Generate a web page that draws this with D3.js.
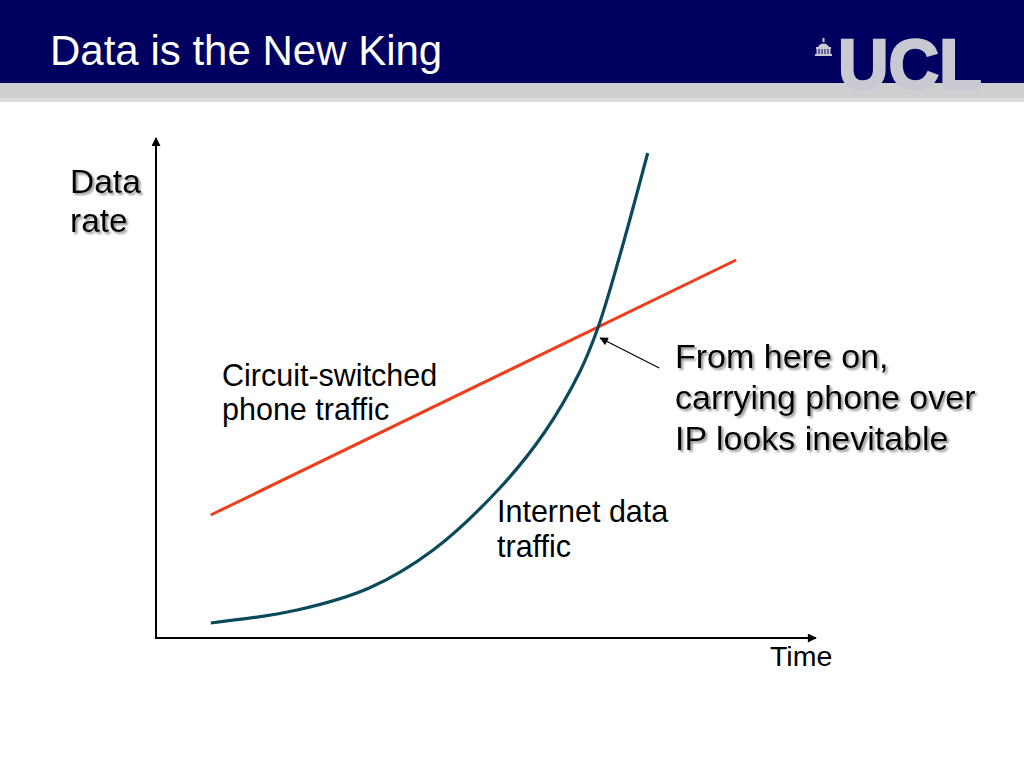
<!DOCTYPE html>
<html>
<head>
<meta charset="utf-8">
<script src="https://cdn.jsdelivr.net/npm/d3@7"></script>
<style>
  body { margin: 0; background: #fff; }
  svg { display: block; font-family: "Liberation Sans", Arial, sans-serif; }
</style>
</head>
<body>
<script>
// time runs 0..100 along the axis, data rate 0..100 up the axis
const phoneTime = [8.3, 87.9]
const phoneRate = [24.6, 75.6]
const internetTime = [8.3, 21.4, 32.3, 42.0, 52.1, 58.9, 64.2, 67.0, 70.3, 74.5]
const internetRate = [3.0, 5.6, 10.0, 17.6, 30.0, 41.2, 53.2, 62.2, 76.6, 97.0]
const crossing = { time: 67.0, rate: 62.2 }
const titleText = "Data is the New King"
const yLabel = ["Data", "rate"]
const xLabel = "Time"
const phoneLabel = ["Circuit-switched", "phone traffic"]
const internetLabel = ["Internet data", "traffic"]
const noteLabel = ["From here on,", "carrying phone over", "IP looks inevitable"]

const W = 1024, H = 768
const svg = d3.select("body").append("svg").attr("width", W).attr("height", H)

const defs = svg.append("defs")
defs.append("filter").attr("id", "shadow")
  .attr("x", "-10%").attr("y", "-10%").attr("width", "130%").attr("height", "140%")
  .append("feDropShadow")
  .attr("dx", 2).attr("dy", 2).attr("stdDeviation", 1)
  .attr("flood-color", "#777").attr("flood-opacity", 0.8)

defs.append("marker").attr("id", "axisArrow")
  .attr("viewBox", "0 0 10 10").attr("refX", 9).attr("refY", 5)
  .attr("markerWidth", 5).attr("markerHeight", 4.5)
  .attr("markerUnits", "strokeWidth").attr("orient", "auto")
  .append("path").attr("d", "M0,0L10,5L0,10Z").attr("fill", "#000")

defs.append("marker").attr("id", "noteArrow")
  .attr("viewBox", "0 0 10 10").attr("refX", 9).attr("refY", 5)
  .attr("markerWidth", 9).attr("markerHeight", 7)
  .attr("markerUnits", "strokeWidth").attr("orient", "auto")
  .append("path").attr("d", "M0,0L10,5L0,10Z").attr("fill", "#000")

// header
svg.append("rect").attr("x", 0).attr("y", 0).attr("width", W).attr("height", 83).attr("fill", "#000060")
svg.append("rect").attr("x", 760).attr("y", 0).attr("width", W - 760).attr("height", 84).attr("fill", "#000060")
svg.append("rect").attr("x", 0).attr("y", 83).attr("width", W).attr("height", 19).attr("fill", "#cfcfd2")
svg.append("rect").attr("x", 0).attr("y", 98).attr("width", W).attr("height", 4).attr("fill", "#dcdcde")

svg.append("text").attr("x", 50).attr("y", 65)
  .attr("fill", "#fff").attr("font-size", 42)
  .text(titleText)

// UCL logo
const logo = svg.append("g").attr("fill", "#c9c9d1")
logo.append("text").attr("x", 838).attr("y", 89)
  .attr("font-size", 70).attr("font-weight", "bold")
  .attr("stroke", "#c9c9d1").attr("stroke-width", 2.5)
  .text("UCL")
const dome = logo.append("g").attr("transform", "translate(815,38)")
dome.append("rect").attr("x", 7.5).attr("y", 0).attr("width", 2).attr("height", 4)
dome.append("path").attr("d", "M3,9 A6,6 0 0 1 14,9 Z")
dome.append("rect").attr("x", 1).attr("y", 9).attr("width", 15).attr("height", 2)
for (let i = 0; i < 5; i++) {
  dome.append("rect").attr("x", 1.5 + i * 3).attr("y", 11).attr("width", 2).attr("height", 5)
}
dome.append("rect").attr("x", 0).attr("y", 16).attr("width", 17).attr("height", 2)

// chart
const x = d3.scaleLinear().domain([0, 100]).range([156, 816])
const y = d3.scaleLinear().domain([0, 100]).range([638, 138])

const xAxis = svg.append("g").attr("transform", `translate(0,${y(0)})`)
  .call(d3.axisBottom(x).tickValues([]).tickSizeOuter(0))
xAxis.select(".domain").attr("stroke", "#000").attr("stroke-width", 2)
  .attr("d", `M${x(0) - 1},0H${x(100)}`).attr("marker-end", "url(#axisArrow)")

const yAxis = svg.append("g").attr("transform", `translate(${x(0)},0)`)
  .call(d3.axisLeft(y).tickValues([]).tickSizeOuter(0))
yAxis.select(".domain").attr("stroke", "#000").attr("stroke-width", 2)
  .attr("d", `M0,${y(0) + 1}V${y(100)}`).attr("marker-end", "url(#axisArrow)")

const line = d3.line().x(d => x(d[0])).y(d => y(d[1]))

svg.append("path")
  .datum(d3.zip(phoneTime, phoneRate))
  .attr("fill", "none").attr("stroke", "#ee3f1c").attr("stroke-width", 3)
  .attr("d", line)

svg.append("path")
  .datum(d3.zip(internetTime, internetRate))
  .attr("fill", "none").attr("stroke", "#0b4a5c").attr("stroke-width", 3.2)
  .attr("d", line.curve(d3.curveCatmullRom))

// note arrow pointing at the crossing
svg.append("line")
  .attr("x1", x(crossing.time) + 61).attr("y1", y(crossing.rate) + 41)
  .attr("x2", x(crossing.time) + 2).attr("y2", y(crossing.rate) + 11)
  .attr("stroke", "#000").attr("stroke-width", 1.2)
  .attr("marker-end", "url(#noteArrow)")

function label(lines, x0, y0, size, step, shadow) {
  const t = svg.append("text").attr("font-size", size).attr("fill", "#000")
  if (shadow) t.attr("filter", "url(#shadow)")
  t.selectAll("tspan").data(lines).join("tspan")
    .attr("x", x0).attr("y", (d, i) => y0 + i * step)
    .text(d => d)
}

label(yLabel, 70, 193, 33.5, 39, true)
label(phoneLabel, 222, 386, 30.5, 34, false)
label(internetLabel, 497, 522, 30.5, 35, false)
label(noteLabel, 675, 368, 34, 41, true)
label([xLabel], 770, 666, 28.5, 0, false)
</script>
</body>
</html>
